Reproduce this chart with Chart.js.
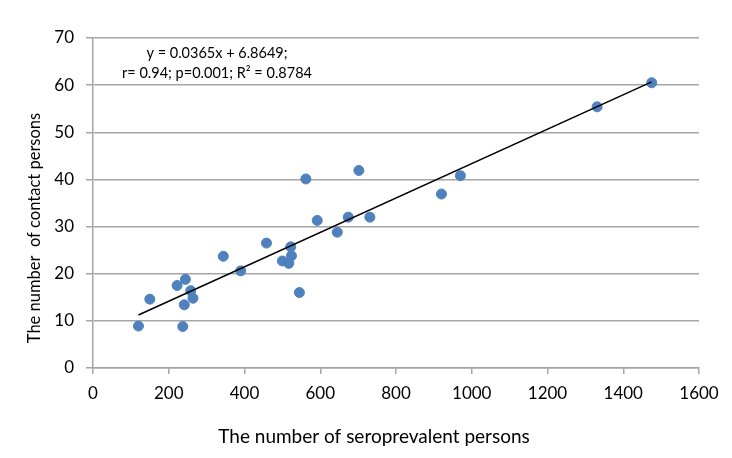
<!DOCTYPE html>
<html>
<head>
<meta charset="utf-8">
<script src="https://cdn.jsdelivr.net/npm/chart.js@4"></script>
<style>
  html, body { margin: 0; padding: 0; background: #fff; }
  #wrap { width: 732px; height: 458px; }
</style>
</head>
<body>
<div id="wrap"><canvas id="myChart" width="732" height="458"></canvas></div>
<script>
// seroprevalent persons (x) and contact persons (y)
var seroPersons = [120, 150, 222, 244, 258, 264, 241, 237, 344, 390,
                   458, 562, 522, 524, 500, 517, 545, 592, 645, 674,
                   731, 702, 920, 970, 1331, 1475];
var contactPersons = [8.9, 14.6, 17.5, 18.8, 16.4, 14.8, 13.4, 8.8, 23.7, 20.6,
                      26.5, 40.1, 25.7, 23.8, 22.7, 22.2, 16.0, 31.3, 28.8, 32.0,
                      32.0, 41.9, 36.9, 40.8, 55.4, 60.5];
// regression from the figure: y = 0.0365x + 6.8649
var trendSlope = 0.0365;
var trendIntercept = 6.8649;
var fitLabels = ['y = 0.0365x + 6.8649;', 'r= 0.94; p=0.001; R\u00b2 = 0.8784'];
var xTitle = 'The number of seroprevalent persons';
var yTitle = 'The number  of contact persons';

var fontFamily = "Lato, 'Open Sans', sans-serif";

var points = [];
for (var i = 0; i < seroPersons.length; i++) {
    points.push({x: seroPersons[i], y: contactPersons[i]});
}
var xMin = Math.min.apply(null, seroPersons);
var xMax = Math.max.apply(null, seroPersons);
var trendPoints = [
    {x: xMin, y: trendSlope * xMin + trendIntercept},
    {x: xMax, y: trendSlope * xMax + trendIntercept}
];

// equation text and axis titles (Excel puts them a bit off-centre)
const extraText = {
    id: 'extraText',
    afterDraw(chart) {
        const ctx = chart.ctx;
        const area = chart.chartArea;
        ctx.save();
        ctx.fillStyle = '#000';
        ctx.textAlign = 'center';
        ctx.textBaseline = 'middle';
        ctx.font = '14.5px ' + fontFamily;
        ctx.fillText(fitLabels[0], area.left + 124, area.top + 15);
        ctx.fillText(fitLabels[1], area.left + 124, area.top + 35);

        ctx.font = '19px ' + fontFamily;
        ctx.fillText(xTitle, area.left + 281, area.bottom + 69);

        ctx.translate(35, area.top + 190);
        ctx.rotate(-Math.PI / 2);
        ctx.font = '16.5px ' + fontFamily;
        ctx.fillText(yTitle, 0, 0);
        ctx.restore();
    }
};

const config = {
    type: 'scatter',
    data: {
        datasets: [{
            label: 'Contacts',
            data: points,
            backgroundColor: '#4F81BD',
            borderColor: '#4F81BD',
            pointRadius: 5,
            pointHoverRadius: 5,
            order: 2
        }, {
            type: 'line',
            label: 'Trend',
            data: trendPoints,
            borderColor: '#000',
            borderWidth: 1.5,
            pointRadius: 0,
            fill: false,
            order: 1
        }]
    },
    options: {
        responsive: false,
        animation: false,
        layout: { padding: { top: 38, right: 33, left: 0, bottom: 0 } },
        plugins: {
            legend: { display: false },
            tooltip: { enabled: false }
        },
        scales: {
            x: {
                type: 'linear',
                min: 0,
                max: 1600,
                ticks: {
                    stepSize: 200,
                    color: '#000',
                    font: { family: fontFamily, size: 17 },
                    padding: 9,
                    maxRotation: 0,
                    callback: function (v) { return String(v); }
                },
                grid: {
                    drawOnChartArea: false,
                    drawTicks: true,
                    tickLength: 6,
                    color: '#a6a6a6',
                    lineWidth: 1.5
                },
                border: { color: '#a6a6a6', width: 1.5 },
                afterFit: function (scale) { scale.height = 90; }
            },
            y: {
                min: 0,
                max: 70,
                ticks: {
                    stepSize: 10,
                    color: '#000',
                    font: { family: fontFamily, size: 17 },
                    padding: 12,
                    callback: function (v) { return String(v); }
                },
                grid: {
                    drawTicks: true,
                    tickLength: 7,
                    color: '#a6a6a6',
                    lineWidth: 1.5
                },
                border: { color: '#a6a6a6', width: 1.5 },
                afterFit: function (scale) { scale.width = 93; }
            }
        }
    },
    plugins: [extraText]
};

const myChart = new Chart(document.getElementById('myChart'), config);
</script>
</body>
</html>
